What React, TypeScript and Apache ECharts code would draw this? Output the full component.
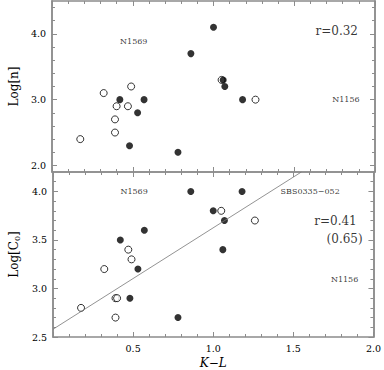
import React, { useEffect, useRef } from "react";
import * as echarts from "echarts";

// K-L colour vs Log[n] (top) and Log[C0] (bottom)
const topOpen: number[][] = [
  [0.175, 2.4], [0.32, 3.1], [0.40, 2.9], [0.39, 2.7], [0.39, 2.5],
  [0.49, 3.2], [0.47, 2.9], [1.05, 3.3], [1.26, 3.0],
];
const topFilled: number[][] = [
  [0.42, 3.0], [0.57, 3.0], [0.53, 2.8], [0.48, 2.3], [0.78, 2.2],
  [0.86, 3.7], [1.0, 4.1], [1.06, 3.3], [1.07, 3.2], [1.18, 3.0],
];
const botOpen: number[][] = [
  [0.175, 2.8], [0.32, 3.2], [0.39, 2.9], [0.40, 2.9], [0.39, 2.7],
  [0.47, 3.4], [0.49, 3.3], [1.05, 3.8], [1.26, 3.7],
];
const botFilled: number[][] = [
  [0.42, 3.5], [0.57, 3.6], [0.53, 3.2], [0.48, 2.9], [0.78, 2.7],
  [0.86, 4.0], [1.0, 3.8], [1.07, 3.7], [1.06, 3.4], [1.18, 4.0],
];
const fitLine: number[][] = [[0, 2.58], [1.55, 4.2]];

const topMajor = [2, 3, 4];
const topMinor = [2.0, 2.2, 2.4, 2.6, 2.8, 3.0, 3.2, 3.4, 3.6, 3.8, 4.0, 4.2, 4.4];
const botMajor = [2.5, 3.0, 3.5, 4.0];
const botMinor = [2.5, 2.6, 2.7, 2.8, 2.9, 3.0, 3.1, 3.2, 3.3, 3.4, 3.5, 3.6, 3.7, 3.8, 3.9, 4.0, 4.1];

const topNotes = [
  { t: "N1569", x: 0.506, y: 3.88, big: false },
  { t: "r=0.32", x: 1.763, y: 4.05, big: true },
  { t: "N1156", x: 1.82, y: 3.0, big: false },
];
const botNotes = [
  { t: "N1569", x: 0.506, y: 4.0, big: false },
  { t: "SBS0335\u2212052", x: 1.605, y: 4.0, big: false },
  { t: "r=0.41", x: 1.763, y: 3.7, big: true },
  { t: "(0.65)", x: 1.82, y: 3.51, big: true },
  { t: "N1156", x: 1.82, y: 3.09, big: false },
];

const GRAY = "#8c8c8c";
const FONT = "DejaVu Serif";

export default function App() {
  const ref = useRef<HTMLDivElement>(null);
  useEffect(() => {
    if (!ref.current) return;
    const chart = echarts.init(ref.current, null, { renderer: "svg" });

    const xAx = (grid: number, pos: "top" | "bottom", labels: boolean) => ({
      type: "value",
      gridIndex: grid,
      position: pos,
      min: 0,
      max: 2,
      interval: 0.5,
      axisLine: { show: true, onZero: false, lineStyle: { color: GRAY, width: 1.5 } },
      axisTick: { show: true, inside: true, length: 5, lineStyle: { color: GRAY } },
      minorTick: { show: true, splitNumber: 5, length: 3, lineStyle: { color: GRAY } },
      splitLine: { show: false },
      axisLabel: {
        show: labels,
        color: "#000",
        fontFamily: FONT,
        fontSize: 9.5,
        margin: 6,
        formatter: (v: number) => (v === 0 ? "" : v.toFixed(1)),
      },
      name: labels ? "K\u2212L" : "",
      nameLocation: "middle",
      nameGap: 20,
      nameTextStyle: { color: "#000", fontFamily: FONT, fontStyle: "italic", fontSize: 12 },
    });

    const yAx = (
      grid: number,
      pos: "left" | "right",
      min: number,
      max: number,
      ticks: number[],
      len: number,
      labels: boolean,
      name: string
    ) => ({
      type: "value",
      gridIndex: grid,
      position: pos,
      min,
      max,
      axisLine: { show: true, onZero: false, lineStyle: { color: GRAY, width: 1.5 } },
      axisTick: { show: true, inside: true, length: len, customValues: ticks, lineStyle: { color: GRAY } },
      splitLine: { show: false },
      axisLabel: {
        show: labels,
        customValues: ticks,
        color: "#000",
        fontFamily: FONT,
        fontSize: 9.5,
        margin: 6,
        formatter: (v: number) => v.toFixed(1),
      },
      name,
      nameLocation: "middle",
      nameGap: 27,
      nameTextStyle: { color: "#000", fontFamily: FONT, fontSize: 12 },
    });

    const noteSeries = (notes: typeof topNotes, xi: number, yi: number) => ({
      type: "scatter",
      xAxisIndex: xi,
      yAxisIndex: yi,
      symbolSize: 0,
      silent: true,
      data: notes.map((n) => ({
        value: [n.x, n.y],
        label: {
          show: true,
          position: "inside",
          formatter: n.t,
          color: "#000",
          fontFamily: FONT,
          fontSize: n.big ? 12 : 8,
        },
      })),
    });

    const openStyle = { color: "#fff", borderColor: "#000", borderWidth: 1 };
    const filledStyle = { color: "#000" };

    chart.setOption({
      animation: false,
      backgroundColor: "#fff",
      grid: [
        { left: 41, top: 1, width: 334, height: 171 },
        { left: 41, top: 172, width: 334, height: 171 },
      ],
      xAxis: [xAx(0, "bottom", false), xAx(0, "top", false), xAx(1, "bottom", true), xAx(1, "top", false)],
      yAxis: [
        yAx(0, "left", 1.9, 4.5, topMajor, 5, true, "Log[n]"),
        yAx(0, "left", 1.9, 4.5, topMinor, 3, false, ""),
        yAx(0, "right", 1.9, 4.5, topMajor, 5, false, ""),
        yAx(0, "right", 1.9, 4.5, topMinor, 3, false, ""),
        yAx(1, "left", 2.5, 4.2, botMajor, 5, true, "{a|Log[C}{s|0}{a|]}"),
        yAx(1, "left", 2.5, 4.2, botMinor, 3, false, ""),
        yAx(1, "right", 2.5, 4.2, botMajor, 5, false, ""),
        yAx(1, "right", 2.5, 4.2, botMinor, 3, false, ""),
      ].map((a, i) =>
        i === 4
          ? {
              ...a,
              nameTextStyle: {
                ...a.nameTextStyle,
                rich: {
                  a: { fontFamily: FONT, fontSize: 12, color: "#000" },
                  s: { fontFamily: FONT, fontSize: 8, color: "#000", verticalAlign: "bottom", padding: [6, 0, 0, 0] },
                },
              },
            }
          : a
      ),
      series: [
        {
          type: "line",
          xAxisIndex: 2,
          yAxisIndex: 4,
          data: fitLine,
          symbol: "none",
          lineStyle: { color: "#777", width: 0.8 },
          silent: true,
        },
        { type: "scatter", xAxisIndex: 0, yAxisIndex: 0, data: topOpen, symbolSize: 7, itemStyle: openStyle },
        { type: "scatter", xAxisIndex: 0, yAxisIndex: 0, data: topFilled, symbolSize: 7, itemStyle: filledStyle },
        { type: "scatter", xAxisIndex: 2, yAxisIndex: 4, data: botOpen, symbolSize: 7, itemStyle: openStyle },
        { type: "scatter", xAxisIndex: 2, yAxisIndex: 4, data: botFilled, symbolSize: 7, itemStyle: filledStyle },
        noteSeries(topNotes, 0, 0),
        noteSeries(botNotes, 2, 4),
      ],
    });
    return () => chart.dispose();
  }, []);
  return (
    <div
      ref={ref}
      style={{ position: "fixed", left: 0, top: 0, width: 384, height: 370, background: "#fff" }}
    />
  );
}
